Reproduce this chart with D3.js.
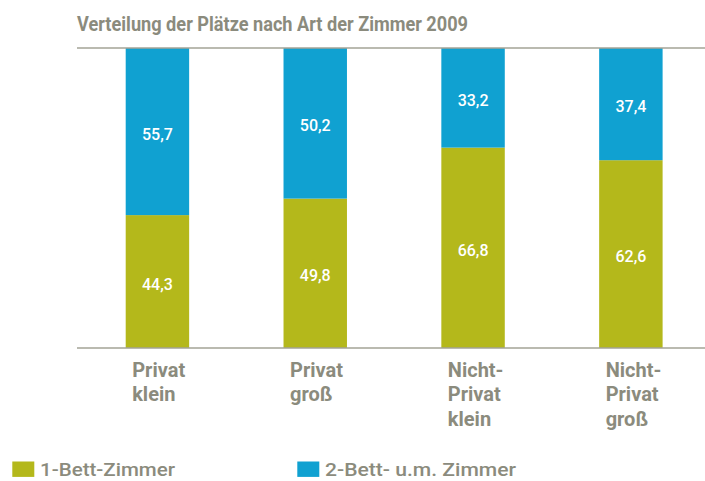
<!DOCTYPE html>
<html>
<head>
<meta charset="utf-8">
<script src="https://cdn.jsdelivr.net/npm/d3@7"></script>
<style>
  html, body { margin: 0; padding: 0; background: #fff; }
  svg { display: block; }
  text { font-family: "Roboto", "Liberation Sans", sans-serif; }
</style>
</head>
<body>
<svg id="chart" width="705" height="481"></svg>
<script>
// Verteilung der Plätze nach Art der Zimmer 2009 (Anteile in %)
const title = "Verteilung der Plätze nach Art der Zimmer 2009";
const categories = [
  ["Privat", "klein"],
  ["Privat", "groß"],
  ["Nicht-", "Privat", "klein"],
  ["Nicht-", "Privat", "groß"]
];
const seriesNames = ["1-Bett-Zimmer", "2-Bett- u.m. Zimmer"];
const einBett = [44.3, 49.8, 66.8, 62.6];
const zweiBett = [55.7, 50.2, 33.2, 37.4];
const colors = ["#b4b81b", "#10a1d1"];
const grey = "#8b8b7d";
const lineGrey = "#a3a396";

const svg = d3.select("#chart");
const W = 705;

const keys = categories.map((c, i) => i);
const x = d3.scaleBand().domain(keys).range([125.7, 662.6]).paddingInner(0.598).paddingOuter(0);
const y = d3.scaleLinear().domain([0, 100]).range([348, 48]);

// Title
svg.append("text")
  .attr("x", 77).attr("y", 31)
  .attr("fill", grey)
  .attr("font-size", 20).attr("font-weight", 700)
  .attr("textLength", 391).attr("lengthAdjust", "spacingAndGlyphs")
  .text(title);

// Stacked data
const rows = keys.map(i => ({ key: i, s0: einBett[i], s1: zweiBett[i] }));
const stacked = d3.stack().keys(["s0", "s1"])(rows);

const layers = svg.append("g").selectAll("g").data(stacked).join("g")
  .attr("fill", (d, i) => colors[i]);

layers.selectAll("rect").data(d => d).join("rect")
  .attr("x", d => x(d.data.key))
  .attr("width", x.bandwidth())
  .attr("y", d => y(d[1]))
  .attr("height", d => y(d[0]) - y(d[1]));

// Value labels inside segments
const fmt = v => d3.format(".1f")(v).replace(".", ",");
stacked.forEach((layer, li) => {
  svg.append("g").selectAll("text").data(layer).join("text")
    .attr("x", d => x(d.data.key) + x.bandwidth() / 2)
    .attr("y", d => (y(d[0]) + y(d[1])) / 2 + 8)
    .attr("text-anchor", "middle")
    .attr("fill", "#fff")
    .attr("font-size", 16).attr("font-weight", 500)
    .text(d => fmt(d[1] - d[0]));
});

// Top and bottom rules
svg.append("line").attr("x1", 77).attr("x2", W).attr("y1", y(100)).attr("y2", y(100))
  .attr("stroke", lineGrey).attr("stroke-width", 1.6);
svg.append("line").attr("x1", 77).attr("x2", W).attr("y1", y(0)).attr("y2", y(0))
  .attr("stroke", lineGrey).attr("stroke-width", 1.6);

// Category labels
const cat = svg.append("g").selectAll("text").data(categories).join("text")
  .attr("x", (d, i) => x(i) + 6.5)
  .attr("fill", grey)
  .attr("font-size", 20).attr("font-weight", 700);
cat.selectAll("tspan").data(d => d).join("tspan")
  .attr("x", function () { return this.parentNode.getAttribute("x"); })
  .attr("y", (d, j) => 376.7 + j * 24.7)
  .text(d => d);

// Legend
const legendX = [12.3, 297.3];
const legendW = [135, 191];
const leg = svg.append("g").selectAll("g").data(seriesNames).join("g");
leg.append("rect")
  .attr("x", (d, i) => legendX[i]).attr("y", 461.5)
  .attr("width", 22).attr("height", 15.4)
  .attr("fill", (d, i) => colors[i]);
leg.append("text")
  .attr("x", (d, i) => legendX[i] + 27.7).attr("y", 476)
  .attr("fill", grey)
  .attr("font-size", 18.5).attr("font-weight", 500)
  .attr("textLength", (d, i) => legendW[i]).attr("lengthAdjust", "spacingAndGlyphs")
  .text(d => d);
</script>
</body>
</html>
